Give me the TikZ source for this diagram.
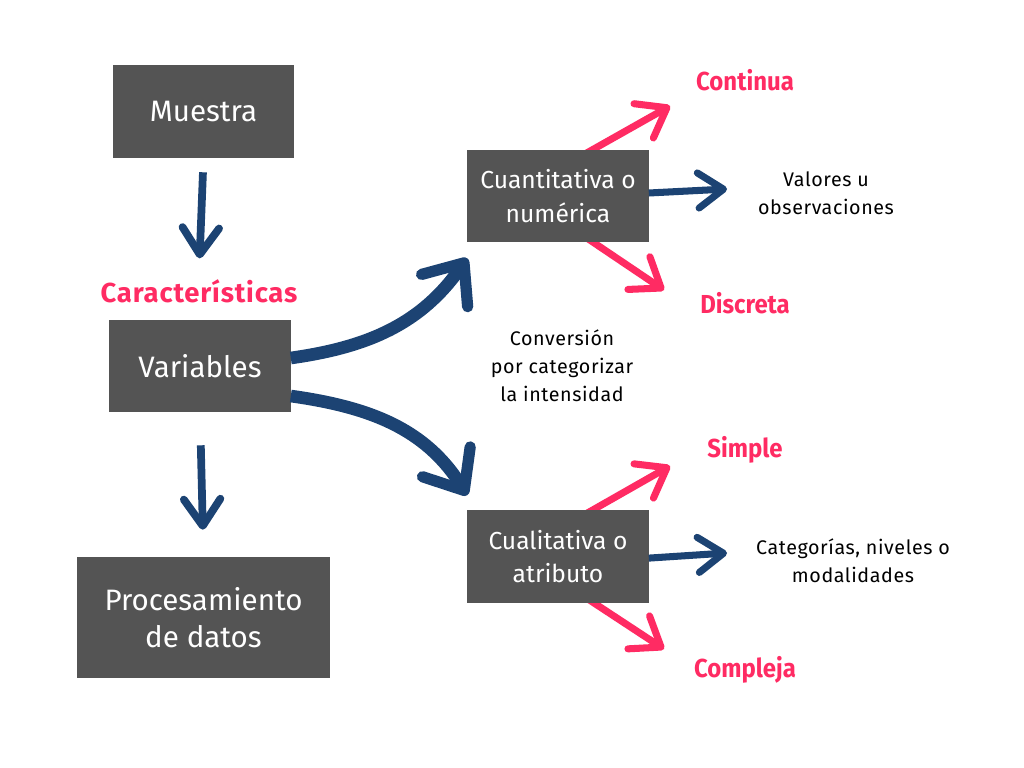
\documentclass[tikz,border=0pt]{standalone}
\usepackage{fontspec}
\setmainfont{Fira Sans}
\usetikzlibrary{arrows.meta,backgrounds}

\definecolor{cajagris}{HTML}{545454}
\definecolor{azul}{HTML}{1C4373}
\definecolor{rosa}{HTML}{FF2B63}

\tikzset{
  caja/.style={fill=cajagris, text=white, align=center, inner sep=0pt,
    minimum width=4.525cm, minimum height=2.3cm,
    font=\fontsize{21}{26}\selectfont},
  cajachica/.style={caja, font=\fontsize{17.5}{24}\selectfont},
  rosatxt/.style={text=rosa, font=\bfseries\addfontfeature{LetterSpace=3}\fontsize{19.5}{22}\selectfont},
  rosachica/.style={text=rosa, font=\bfseries\addfontfeature{FakeStretch=0.92}\fontsize{18.5}{22}\selectfont},
  nota/.style={align=center, font=\addfontfeature{LetterSpace=3}\fontsize{14}{20}\selectfont},
  flechaazul/.style={draw=azul, line width=5.5pt,
    -{Straight Barb[length=19pt,width=26pt,line width=5.5pt,round]}},
  flechagruesa/.style={draw=azul, line width=9pt,
    -{Straight Barb[length=24pt,width=40pt,line width=8pt,round]}},
  flechacorta/.style={draw=azul, line width=5pt,
    -{Straight Barb[length=18pt,width=25pt,line width=5pt,round]}},
  flecharosa/.style={draw=rosa, line width=5pt,
    -{Straight Barb[length=19pt,width=28pt,line width=5pt,round]}}
}

\begin{document}
\begin{tikzpicture}[x=0.025cm,y=-0.025cm]
\useasboundingbox (0,0) rectangle (1024,768);

% columna izquierda
\node[caja, minimum height=2.325cm] (muestra) at (203.5,111.5) {Muestra};
\node[rosatxt] (caracteristicas) at (199,291) {Características};
\node[caja] (variables) at (200,366) {Variables};
\node[caja, minimum width=6.325cm, minimum height=3.025cm] (procesamiento) at (203.5,617.5) {Procesamiento\\de datos};

% tipos de variable
\node[cajachica] (cuanti) at (558,196) {Cuantitativa o\\numérica};
\node[cajachica] (cuali) at (558,556.5) {Cualitativa o\\atributo};

\node[rosachica] (continua) at (745,80) {Continua};
\node[rosachica] (discreta) at (745,303) {Discreta};
\node[rosachica] (simple) at (745,450) {Simple};
\node[rosachica] (compleja) at (745,670) {Compleja};

\node[nota] (valores) at (826,193) {Valores u\\observaciones};
\node[nota] (conversion) at (562,366) {Conversión\\por categorizar\\la intensidad};
\node[nota] (categorias) at (853,561) {Categorías, niveles o\\modalidades};

\coordinate (puntacont) at (670,106);
\coordinate (puntadisc) at (664,290);
\coordinate (puntasimp) at (670,466);
\coordinate (puntacomp) at (664,649);
\coordinate (puntaval) at (727,189);
\coordinate (puntacat) at (727,553);

\draw[flechaazul, shorten <=0.35cm, shorten >=0.4cm] (muestra.south) -- (caracteristicas.north);
\draw[flechaazul, shorten <=0.825cm, shorten >=0.675cm] (variables.south) -- (procesamiento.north);

\draw[flechagruesa] ([yshift=0.2cm]variables.east) to[out=8,in=235] ([yshift=-0.4cm]cuanti.south west);
\draw[flechagruesa] ([yshift=-0.75cm]variables.east) to[out=-8,in=122] ([yshift=0.375cm]cuali.north west);

\draw[flechacorta] ([yshift=0.075cm]cuanti.east) -- (puntaval);
\draw[flechacorta] ([yshift=-0.04cm]cuali.east) -- (puntacat);

\begin{scope}[on background layer]
\fill[white] (0,0) rectangle (1024,768);
\draw[flecharosa] ([xshift=0.375cm,yshift=-0.275cm]cuanti.north) -- (puntacont);
\draw[flecharosa] ([xshift=0.375cm,yshift=0.34cm]cuanti.south) -- (puntadisc);
\draw[flecharosa] ([xshift=0.375cm,yshift=-0.275cm]cuali.north) -- (puntasimp);
\draw[flecharosa] ([xshift=0.375cm,yshift=0.34cm]cuali.south) -- (puntacomp);
\end{scope}
\end{tikzpicture}
\end{document}
